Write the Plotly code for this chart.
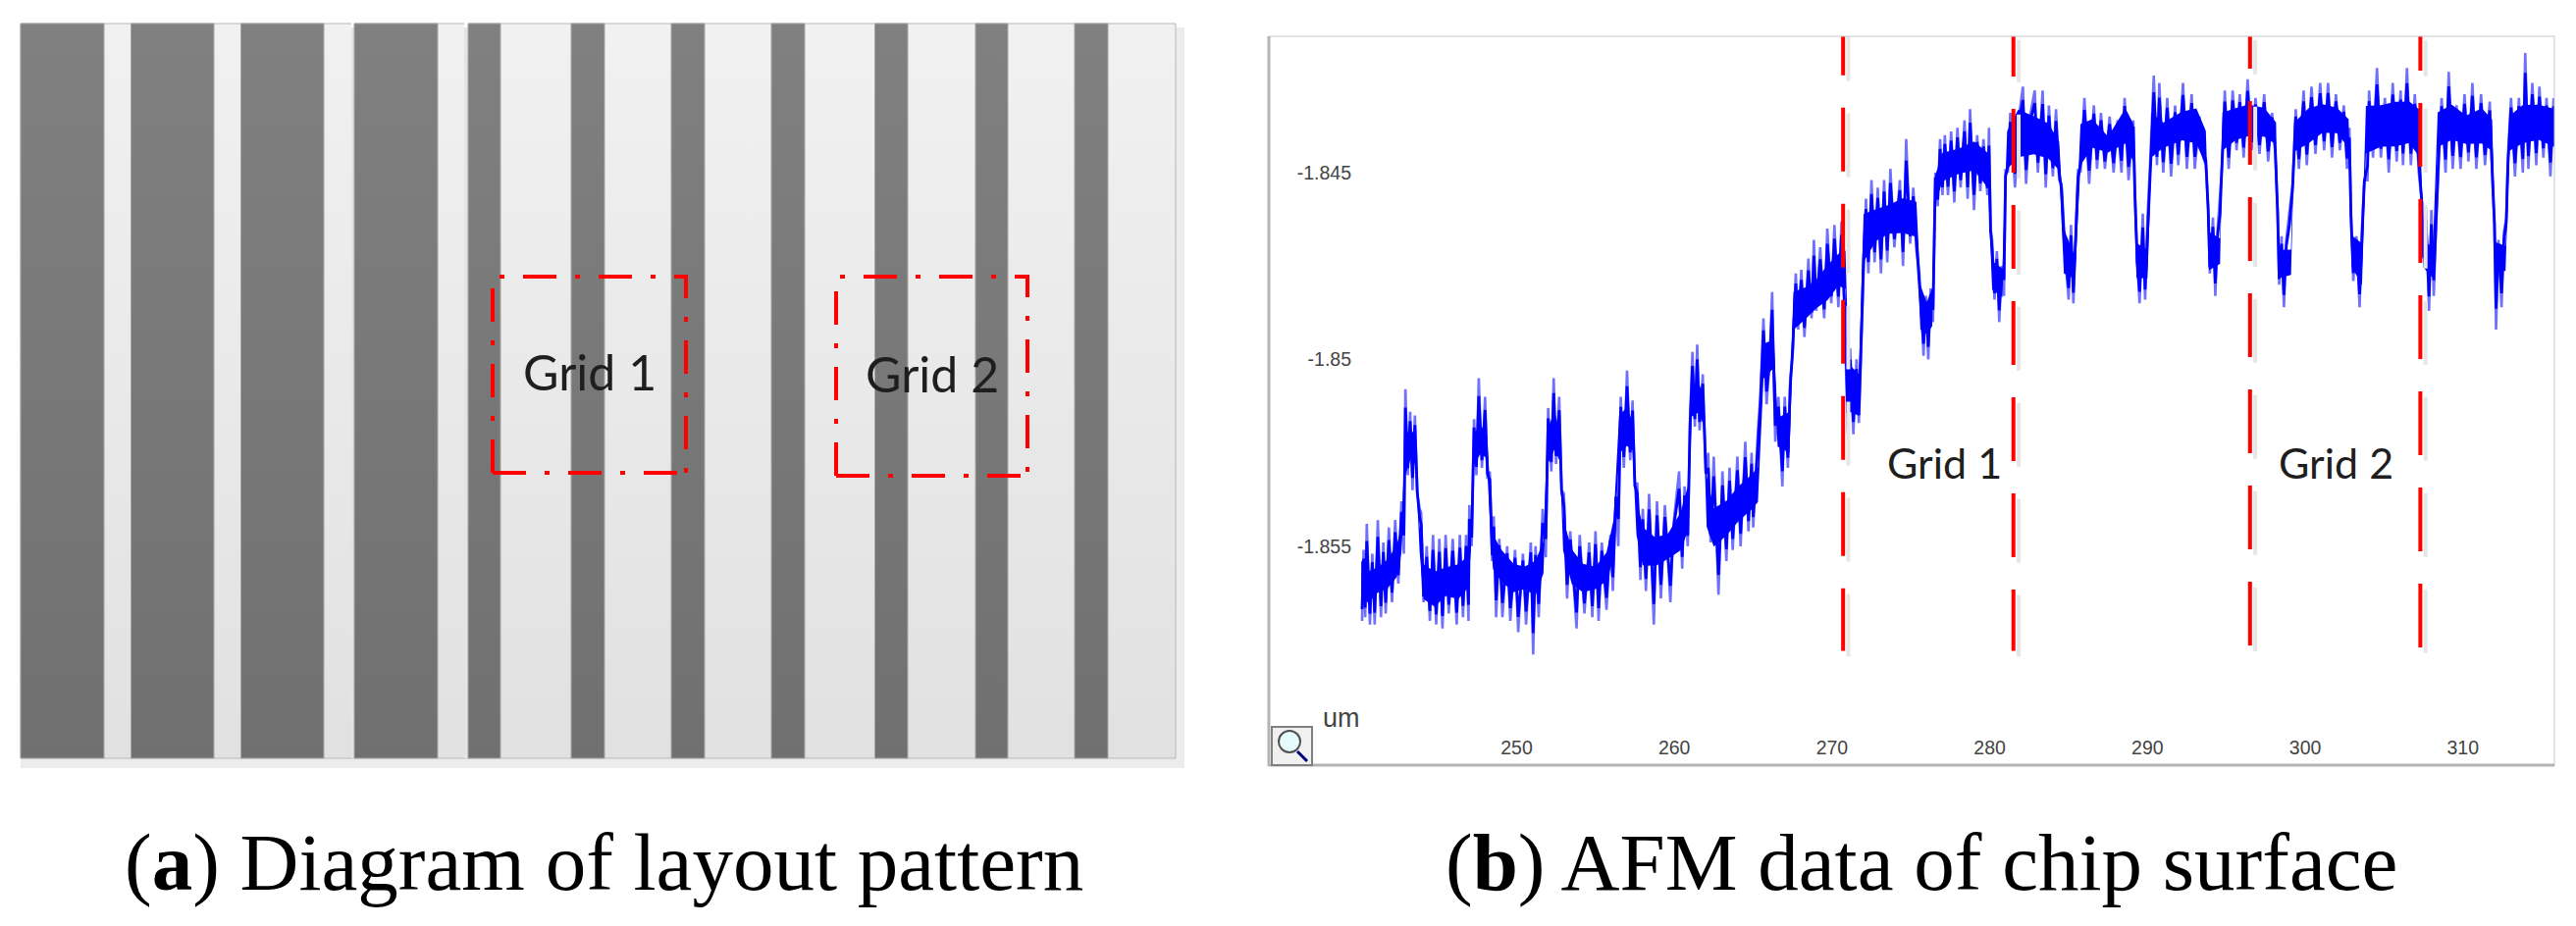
import numpy as np
import plotly.graph_objects as go

W, H = 2625, 944

# ---------- left diagram: stripe positions along the layout (schematic units) ----------
stripe_start = [21, 133.5, 245.5, 361, 477, 582, 684, 786, 891.5, 994, 1095]
stripe_end = [106, 218, 330, 446, 510, 616, 718, 820, 925, 1027, 1129]
seam_start = [358, 473]
seam_end = [361, 477]
grid_labels = ["Grid 1", "Grid 2"]
grid_left = [502, 852]
grid_right = [699, 1047]
grid_top = [282, 282]
grid_bottom = [482, 485]

# ---------- right chart: AFM profile, position in um, height in nm ----------
core_x = [240.15, 240.6, 241.2, 241.8, 242.4, 242.7, 242.95, 243.3, 243.6, 243.85, 244.1,
          244.8, 245.5, 246.3, 246.9, 247.1, 247.3, 247.7, 248.1, 248.35,
          248.5, 249.0, 249.8, 250.5, 251.2, 251.7, 251.95, 252.4, 252.75, 252.95,
          253.5, 254.2, 255.0, 255.7, 256.15, 256.5, 257.0, 257.35, 257.6,
          258.0, 258.8, 259.6, 260.4, 260.85, 261.1, 261.5, 261.85, 262.05,
          262.5, 263.3, 264.1, 264.9, 265.3, 265.65, 266.3, 266.55, 267.3,
          267.55, 268.3, 269.0, 269.7, 270.4, 270.85, 271.05, 271.7,
          272.0, 272.8, 273.6, 274.5, 275.35, 275.6, 276.0, 276.35,
          276.55, 277.0, 278.0, 279.0, 279.9, 280.15, 280.8,
          281.1, 281.8, 282.8, 283.7, 284.4, 284.7, 285.4,
          285.75, 286.5, 287.5, 288.6, 289.1, 289.3, 290.0,
          290.25, 291.0, 292.2, 293.1, 293.7, 293.9, 294.6,
          294.75, 295.6, 296.4, 297.4, 298.15, 298.3, 299.1,
          299.3, 300.2, 301.1, 302.0, 302.75, 302.95, 303.6,
          303.85, 304.8, 305.7, 306.6, 307.25, 307.5, 308.1,
          308.4, 309.3, 310.2, 311.2, 311.85, 312.05, 312.7,
          312.95, 313.8, 314.8, 315.8]
core_top = [-1855.3, -1855.6, -1855.5, -1855.3, -1854.9, -1854.4, -1851.9, -1851.8, -1852.0, -1854.4, -1855.4,
            -1855.6, -1855.5, -1855.4, -1855.2, -1854.3, -1851.9, -1851.7, -1851.9, -1853.5,
            -1854.6, -1855.0, -1855.4, -1855.5, -1855.3, -1854.8, -1851.8, -1851.3, -1851.9, -1854.2,
            -1855.0, -1855.4, -1855.5, -1855.1, -1854.2, -1851.4, -1851.2, -1851.6, -1853.6,
            -1854.4, -1854.7, -1854.6, -1854.0, -1853.3, -1850.7, -1850.5, -1850.9, -1853.0,
            -1853.9, -1853.7, -1853.3, -1853.0, -1852.8, -1849.5, -1849.4, -1851.5, -1851.3,
            -1848.1, -1848.0, -1847.8, -1847.4, -1847.1, -1847.0, -1850.0, -1850.3,
            -1846.0, -1845.9, -1845.8, -1845.6, -1845.7, -1847.9, -1848.4, -1848.0,
            -1845.0, -1844.4, -1844.3, -1844.1, -1844.4, -1847.3, -1847.5,
            -1843.8, -1843.2, -1843.4, -1843.6, -1844.1, -1846.4, -1847.2,
            -1843.6, -1843.5, -1844.0, -1843.2, -1843.6, -1846.8, -1847.0,
            -1843.3, -1843.6, -1843.3, -1843.2, -1843.8, -1846.5, -1846.7,
            -1843.3, -1843.2, -1843.1, -1843.2, -1843.6, -1847.0, -1847.0,
            -1843.6, -1843.2, -1843.1, -1843.2, -1843.5, -1846.6, -1846.8,
            -1843.1, -1843.1, -1843.0, -1843.0, -1843.2, -1846.8, -1846.9,
            -1843.3, -1843.1, -1843.4, -1843.2, -1843.5, -1846.8, -1846.9,
            -1843.4, -1843.1, -1843.1, -1843.2]
core_bottom = [-1856.4, -1856.6, -1856.3, -1856.2, -1855.9, -1855.2, -1853.2, -1852.7, -1852.9, -1855.2, -1856.5,
               -1856.7, -1856.4, -1856.5, -1856.2, -1855.2, -1852.9, -1852.6, -1852.7, -1854.8,
               -1855.7, -1856.0, -1856.3, -1856.2, -1856.4, -1855.8, -1852.9, -1852.5, -1852.8, -1855.2,
               -1856.1, -1856.3, -1856.2, -1856.0, -1855.4, -1852.6, -1852.4, -1852.5, -1854.8,
               -1855.6, -1855.6, -1855.4, -1855.2, -1854.7, -1851.6, -1851.5, -1851.8, -1854.6,
               -1855.1, -1854.8, -1854.4, -1854.1, -1853.9, -1850.6, -1850.3, -1852.4, -1852.6,
               -1849.3, -1849.0, -1848.7, -1848.5, -1848.1, -1848.2, -1851.5, -1851.6,
               -1847.5, -1846.9, -1846.7, -1846.7, -1846.8, -1849.3, -1849.4, -1849.2,
               -1845.9, -1845.3, -1845.1, -1845.0, -1845.5, -1848.2, -1848.4,
               -1845.0, -1844.7, -1844.6, -1844.7, -1845.0, -1847.8, -1847.9,
               -1844.9, -1844.4, -1844.5, -1844.3, -1844.8, -1847.9, -1847.9,
               -1844.7, -1844.4, -1844.2, -1844.3, -1844.9, -1847.7, -1847.5,
               -1844.5, -1844.2, -1844.1, -1844.1, -1844.3, -1847.9, -1847.8,
               -1844.5, -1844.3, -1844.0, -1844.0, -1844.4, -1847.6, -1848.1,
               -1844.6, -1844.4, -1844.4, -1844.3, -1844.7, -1847.6, -1847.9,
               -1844.4, -1844.2, -1844.3, -1844.3, -1844.5, -1847.6, -1847.7,
               -1844.5, -1844.3, -1844.2, -1844.4]

spike_x = [240.2, 240.3, 240.4, 240.5, 240.7, 240.85, 241.0, 241.2, 241.4, 241.55, 241.7, 241.9, 242.1, 242.3, 242.5, 242.7,
           242.85, 242.95, 243.1, 243.25, 243.4, 243.55, 243.7, 243.85,
           243.95, 244.1, 244.3, 244.5, 244.7, 244.9, 245.1, 245.3, 245.5, 245.7, 245.95, 246.2, 246.4, 246.6, 246.8, 246.95, 247.0,
           247.15, 247.3, 247.45, 247.6, 247.8, 248.0, 248.15,
           248.3, 248.45, 248.55, 248.7, 248.9, 249.1, 249.4, 249.6, 249.9, 250.1, 250.4, 250.6, 250.9, 251.05, 251.2, 251.4, 251.65,
           251.85, 252.0, 252.2, 252.35, 252.5, 252.7, 252.85,
           253.0, 253.2, 253.4, 253.8, 254.0, 254.3, 254.6, 254.8, 255.0, 255.2, 255.4, 255.7, 255.95, 256.1, 256.3,
           256.45, 256.6, 256.8, 257.0, 257.2, 257.35, 257.5,
           257.65, 257.85, 258.0, 258.2, 258.4, 258.7, 258.9, 259.15, 259.4, 259.75, 259.95, 260.3, 260.5, 260.65, 260.85,
           261.0, 261.15, 261.3, 261.45, 261.6, 261.8, 262.0,
           262.15, 262.3, 262.5, 262.8, 263.05, 263.3, 263.5, 263.7, 264.0, 264.2, 264.5, 264.7, 264.9, 265.0, 265.3,
           265.45, 265.65, 265.85, 266.05, 266.2, 266.4, 266.6, 266.85, 267.0, 267.2, 267.35,
           267.5, 267.7, 267.85, 268.05, 268.25, 268.5, 268.7, 268.85, 269.0, 269.25, 269.5, 269.7, 269.95, 270.15, 270.4, 270.6, 270.8,
           271.0, 271.15, 271.35, 271.55, 271.7,
           271.9, 272.0, 272.15, 272.3, 272.5, 272.7, 272.9, 273.1, 273.3, 273.5, 273.7, 273.95, 274.3, 274.5, 274.7, 274.95, 275.15, 275.35,
           275.5, 275.65, 275.8, 275.95, 276.1, 276.25, 276.4,
           276.55, 276.7, 276.85, 277.0, 277.15, 277.35, 277.55, 277.75, 277.95, 278.15, 278.4, 278.6, 278.75, 279.0, 279.2, 279.4, 279.6, 279.85, 279.95, 280.05,
           280.15, 280.3, 280.45, 280.6, 280.75, 280.9,
           281.0, 281.15, 281.3, 281.6, 281.85, 282.1, 282.3, 282.55, 282.85, 283.05, 283.35, 283.55, 283.75, 284.0, 284.2, 284.4,
           284.55, 284.7, 284.85, 285.0, 285.15, 285.3, 285.45, 285.6,
           285.75, 286.0, 286.3, 286.6, 286.8, 287.05, 287.3, 287.6, 287.85, 288.1, 288.35, 288.55, 288.8, 289.1, 289.2,
           289.35, 289.5, 289.7, 289.85, 290.0, 290.15,
           290.4, 290.6, 290.75, 291.0, 291.25, 291.5, 291.75, 291.95, 292.25, 292.5, 292.8, 293.0, 293.3, 293.55, 293.7,
           293.85, 293.95, 294.15, 294.3, 294.45, 294.6,
           294.75, 294.9, 295.15, 295.4, 295.65, 295.85, 296.1, 296.35, 296.6, 296.85, 297.1, 297.4, 297.65, 297.9, 298.1,
           298.25, 298.35, 298.5, 298.65, 298.8, 299.0, 299.2,
           299.4, 299.6, 299.9, 300.1, 300.4, 300.65, 300.95, 301.2, 301.45, 301.7, 301.95, 302.2, 302.45, 302.65, 302.8,
           302.9, 303.05, 303.25, 303.45, 303.6, 303.75,
           303.95, 304.05, 304.3, 304.55, 304.8, 305.05, 305.3, 305.55, 305.8, 306.05, 306.2, 306.45, 306.7, 306.95, 307.2,
           307.4, 307.5, 307.65, 307.85, 308.0, 308.15, 308.3, 308.45,
           308.65, 308.9, 309.1, 309.35, 309.6, 309.85, 310.1, 310.35, 310.6, 310.85, 311.15, 311.4, 311.7, 311.85,
           312.0, 312.1, 312.25, 312.45, 312.6, 312.75, 312.85,
           313.05, 313.3, 313.55, 313.8, 313.95, 314.15, 314.4, 314.65, 314.85, 315.1, 315.3, 315.55, 315.75]
spike_y = [-1857.0, -1855.1, -1856.9, -1854.4, -1857.1, -1855.2, -1857.1, -1854.3, -1856.9, -1854.9, -1856.8, -1854.5, -1856.5, -1854.3, -1856.0, -1853.8,
           -1855.2, -1850.8, -1853.1, -1851.4, -1853.5, -1851.5, -1853.6, -1854.0,
           -1854.1, -1856.5, -1855.0, -1857.0, -1854.7, -1857.1, -1854.8, -1857.2, -1854.7, -1856.8, -1854.8, -1857.1, -1854.7, -1856.9, -1854.7, -1857.0, -1853.9,
           -1855.0, -1851.6, -1853.1, -1850.5, -1852.9, -1851.0, -1853.2,
           -1853.0, -1855.4, -1854.2, -1856.9, -1854.8, -1856.9, -1855.0, -1857.0, -1855.1, -1857.3, -1855.2, -1857.1, -1854.9, -1857.9, -1855.0, -1856.9, -1854.0,
           -1855.3, -1851.3, -1853.0, -1850.5, -1852.8, -1851.0, -1853.5,
           -1853.6, -1856.4, -1854.6, -1857.2, -1854.7, -1856.8, -1854.9, -1856.9, -1854.6, -1857.0, -1854.9, -1856.7, -1854.7, -1856.2, -1853.7,
           -1855.0, -1851.0, -1852.9, -1850.3, -1852.7, -1851.1, -1853.4,
           -1853.3, -1855.9, -1854.0, -1856.2, -1853.6, -1857.1, -1853.8, -1856.4, -1853.9, -1856.5, -1854.4, -1853.0, -1855.6, -1853.4, -1855.0,
           -1851.5, -1849.8, -1851.8, -1849.6, -1851.9, -1850.4, -1853.0,
           -1852.5, -1854.9, -1852.6, -1856.3, -1853.0, -1855.4, -1852.9, -1855.1, -1852.6, -1855.0, -1852.2, -1854.6, -1852.5, -1854.5, -1851.9,
           -1851.0, -1848.9, -1851.2, -1850.0, -1848.2, -1852.2, -1851.0, -1853.4, -1851.0, -1852.9, -1850.5,
           -1849.9, -1847.7, -1849.2, -1847.6, -1849.4, -1847.3, -1848.9, -1846.8, -1848.7, -1847.0, -1848.9, -1846.5, -1848.5, -1846.4, -1848.6, -1846.3, -1849.0,
           -1852.0, -1849.7, -1852.0, -1850.0, -1851.7,
           -1849.0, -1847.5, -1845.7, -1847.7, -1845.2, -1847.4, -1845.4, -1847.7, -1845.2, -1847.4, -1844.9, -1847.0, -1845.2, -1847.5, -1844.1, -1846.9, -1845.4, -1847.1,
           -1847.5, -1848.5, -1849.9, -1848.3, -1850.0, -1848.1, -1849.0,
           -1845.0, -1845.9, -1844.1, -1845.6, -1844.0, -1845.6, -1843.9, -1845.8, -1843.8, -1845.4, -1843.6, -1845.7, -1843.3, -1846.0, -1844.0, -1845.5, -1844.1, -1845.6, -1843.8, -1846.5,
           -1846.8, -1848.4, -1847.1, -1849.0, -1847.5, -1848.3,
           -1844.9, -1845.0, -1843.4, -1845.4, -1843.5, -1842.7, -1845.3, -1843.5, -1842.8, -1845.0, -1842.8, -1845.4, -1843.2, -1845.1, -1843.3, -1845.2,
           -1845.3, -1846.5, -1847.6, -1848.4, -1846.4, -1848.5, -1846.5, -1844.9,
           -1845.0, -1843.0, -1845.3, -1843.2, -1844.9, -1843.4, -1844.9, -1843.5, -1845.0, -1843.6, -1845.0, -1843.0, -1845.2, -1843.6, -1845.5,
           -1847.4, -1848.5, -1846.1, -1848.4, -1846.2, -1844.9,
           -1842.4, -1844.8, -1842.6, -1845.0, -1843.0, -1845.1, -1843.2, -1844.8, -1842.6, -1844.9, -1842.9, -1844.9, -1843.5, -1844.6, -1844.8,
           -1845.9, -1847.7, -1846.2, -1848.3, -1846.5, -1845.7,
           -1844.7, -1842.8, -1844.9, -1842.8, -1844.4, -1842.9, -1844.6, -1842.5, -1844.4, -1843.0, -1844.5, -1842.9, -1844.7, -1843.4, -1844.5,
           -1846.0, -1848.0, -1846.7, -1848.6, -1846.8, -1846.0, -1845.3,
           -1843.3, -1844.9, -1842.8, -1844.8, -1842.7, -1844.5, -1842.6, -1844.4, -1842.6, -1844.6, -1842.9, -1844.4, -1843.2, -1844.9, -1843.8,
           -1846.1, -1847.9, -1846.7, -1848.6, -1846.5, -1845.2,
           -1845.2, -1842.8, -1844.6, -1842.2, -1844.6, -1843.0, -1845.0, -1842.6, -1844.7, -1842.8, -1844.8, -1842.2, -1844.8, -1842.9, -1845.0,
           -1845.8, -1847.3, -1845.9, -1848.7, -1846.0, -1848.3, -1846.4, -1844.9,
           -1843.0, -1845.0, -1842.3, -1844.9, -1843.2, -1844.9, -1842.9, -1844.7, -1842.6, -1844.9, -1842.9, -1844.8, -1843.1, -1845.0,
           -1846.4, -1849.2, -1846.8, -1848.6, -1846.6, -1846.2, -1844.6,
           -1843.0, -1845.1, -1843.0, -1845.0, -1841.8, -1844.9, -1842.6, -1844.8, -1842.7, -1844.6, -1843.0, -1845.1, -1843.0]

x_ticks = [250, 260, 270, 280, 290, 300, 310]
y_ticks = [-1.845, -1.85, -1.855]
y_tick_labels = ["-1.845", "-1.85", "-1.855"]
boundary_um = [270.7, 281.5, 296.5, 307.3]
boundary_first_dash = [57, 43, 35, 37]
boundary_top_um = [-1.8409, -1.8413, -1.8413, -1.8413]
boundary_bottom_um = -1.8578
afm_labels = ["Grid 1", "Grid 2"]
afm_label_x = [277.16, 301.93]
afm_label_y = [-1.85277, -1.85277]

if len(spike_x) != len(spike_y) or not (len(core_x) == len(core_top) == len(core_bottom)):
    raise ValueError(f"{len(spike_x)} {len(spike_y)} {len(core_x)} {len(core_top)} {len(core_bottom)}")


def px(x):
    return x / W


def py(y):
    return 1 - y / H


fig = go.Figure()

# left diagram ---------------------------------------------------------------
AX1 = dict(xaxis="x", yaxis="y", hoverinfo="skip", showlegend=False)
fig.add_trace(go.Scatter(x=[21, 1207, 1207, 21, 21], y=[28, 28, 783, 783, 28], mode="none", fill="toself",
                         fillcolor="#ececec", **AX1))
fig.add_trace(go.Scatter(x=[21, 1198, 1198, 21, 21], y=[24, 24, 773, 773, 24], mode="lines", fill="toself",
                         line=dict(color="#b8b8b8", width=1),
                         fillgradient=dict(type="vertical", colorscale=[[0, "#e1e1e1"], [1, "#f1f1f1"]]), **AX1))
for a, b in zip(seam_start, seam_end):
    fig.add_trace(go.Scatter(x=[a, b, b, a, a], y=[28, 28, 773, 773, 28], mode="none", fill="toself",
                             fillcolor="#e4e4e4", **AX1))
    fig.add_trace(go.Scatter(x=[a, b, b, a, a], y=[23, 23, 28, 28, 23], mode="none", fill="toself",
                             fillcolor="#ffffff", **AX1))
for a, b in zip(stripe_start, stripe_end):
    fig.add_trace(go.Scatter(x=[a, b, b, a, a], y=[24, 24, 773, 773, 24], mode="lines", fill="toself",
                             line=dict(color="#a6a6a6", width=1),
                             fillgradient=dict(type="vertical", colorscale=[[0, "#707070"], [1, "#808080"]]), **AX1))
DASH = "34px,19px,5px,19px"
for l, r, t, b in zip(grid_left, grid_right, grid_top, grid_bottom):
    fig.add_trace(go.Scatter(x=[l, l, r, r], y=[b, t, t, b], mode="lines",
                             line=dict(color="#ff0000", width=4, dash=DASH), **AX1))
    fig.add_trace(go.Scatter(x=[l, r], y=[b, b], mode="lines",
                             line=dict(color="#ff0000", width=4, dash=DASH), **AX1))

# right chart ----------------------------------------------------------------
AX2 = dict(xaxis="x2", yaxis="y2", hoverinfo="skip", showlegend=False)
top = np.array(core_top)
bottom = np.array(core_bottom)
mid = (top + bottom) / 2
half = (top - bottom) / 2
# the dark band of the trace is the same spiky signal, pulled toward the band's centre line
centre_at_spike = np.interp(spike_x, core_x, mid)
dark_y = centre_at_spike + (np.array(spike_y) - centre_at_spike) * 0.72

fig.add_trace(go.Scatter(x=spike_x, y=[v / 1000 for v in spike_y], mode="lines",
                         line=dict(color="#7070ff", width=2.6), **AX2))
fig.add_trace(go.Scatter(x=core_x + core_x[::-1],
                         y=list((mid + half * 0.85) / 1000) + list((mid - half * 0.85) / 1000)[::-1],
                         mode="none", fill="toself", fillcolor="#0000ff", **AX2))
fig.add_trace(go.Scatter(x=spike_x, y=list(dark_y / 1000), mode="lines",
                         line=dict(color="#0000ff", width=2.8), **AX2))
for xv, t0, first in zip(boundary_um, boundary_top_um, boundary_first_dash):
    pattern = f"{first}px,33px" + ",65px,33px" * 8
    fig.add_trace(go.Scatter(x=[xv + 0.33, xv + 0.33], y=[t0 - 0.00015, boundary_bottom_um - 0.00015], mode="lines",
                             line=dict(color="#e6e6e6", width=4, dash=pattern), cliponaxis=False, **AX2))
    fig.add_trace(go.Scatter(x=[xv, xv], y=[t0, boundary_bottom_um], mode="lines",
                             line=dict(color="#ff0000", width=4, dash=pattern), cliponaxis=False, **AX2))

# frame and magnifier drawn in page coordinates
shapes = [
    dict(type="line", xref="paper", yref="paper", x0=px(1293), x1=px(2603), y0=py(37), y1=py(37),
         line=dict(color="#c8c8c8", width=1)),
    dict(type="line", xref="paper", yref="paper", x0=px(2603), x1=px(2603), y0=py(37), y1=py(781),
         line=dict(color="#c8c8c8", width=1)),
    dict(type="line", xref="paper", yref="paper", x0=px(1293), x1=px(1293), y0=py(37), y1=py(781),
         line=dict(color="#b4b4b4", width=3)),
    dict(type="line", xref="paper", yref="paper", x0=px(1293), x1=px(2603), y0=py(780), y1=py(780),
         line=dict(color="#b4b4b4", width=3)),
    dict(type="rect", xref="paper", yref="paper", x0=px(1296), x1=px(1337), y0=py(741), y1=py(780),
         line=dict(color="#808080", width=2), fillcolor="#f0f0f0"),
    dict(type="circle", xref="paper", yref="paper", x0=px(1303), x1=px(1325), y0=py(745), y1=py(767),
         line=dict(color="#505050", width=2), fillcolor="#e6fbfb"),
    dict(type="line", xref="paper", yref="paper", x0=px(1322), x1=px(1332), y0=py(766), y1=py(776),
         line=dict(color="#000080", width=3)),
]

annotations = []
for label, l, r, t, b in zip(grid_labels, grid_left, grid_right, grid_top, grid_bottom):
    annotations.append(dict(xref="x", yref="y", x=(l + r) / 2, y=(t + b) / 2 - 3, text=label, showarrow=False,
                            xanchor="center", yanchor="middle",
                            font=dict(family="Lato", size=50, color="#1e1e1e")))
for label, xv, yv in zip(afm_labels, afm_label_x, afm_label_y):
    annotations.append(dict(xref="x2", yref="y2", x=xv, y=yv, text=label, showarrow=False,
                            xanchor="center", yanchor="middle",
                            font=dict(family="Lato", size=43, color="#1e1e1e")))
annotations.append(dict(xref="paper", yref="paper", x=px(1367), y=py(732), text="um", showarrow=False,
                        xanchor="center", yanchor="middle",
                        font=dict(family="Liberation Sans", size=27, color="#444444")))
annotations.append(dict(xref="paper", yref="paper", x=px(615), y=py(879), showarrow=False,
                        xanchor="center", yanchor="middle",
                        text="(<b>a</b>) Diagram of layout pattern",
                        font=dict(family="Liberation Serif", size=83, color="#000000")))
annotations.append(dict(xref="paper", yref="paper", x=px(1958), y=py(879), showarrow=False,
                        xanchor="center", yanchor="middle",
                        text="(<b>b</b>) AFM data of chip surface",
                        font=dict(family="Liberation Serif", size=83, color="#000000")))

fig.update_layout(
    width=W, height=H, autosize=False, margin=dict(l=0, r=0, t=0, b=0),
    paper_bgcolor="white", plot_bgcolor="rgba(0,0,0,0)", shapes=shapes, annotations=annotations,
    xaxis=dict(domain=[0, px(1250)], range=[0, 1250], visible=False, fixedrange=True),
    yaxis=dict(domain=[py(800), 1], range=[800, 0], visible=False, fixedrange=True),
    xaxis2=dict(domain=[px(1378), px(2603)], range=[239.58, 315.80], tickvals=x_ticks, showgrid=False,
                showline=False, zeroline=False, ticks="", anchor="y2",
                tickfont=dict(family="Liberation Sans", size=19.5, color="#444444")),
    yaxis2=dict(domain=[py(748), py(37)], range=[-1.86002, -1.84135], tickvals=y_ticks, ticktext=y_tick_labels,
                showgrid=False, showline=False, zeroline=False, ticks="", anchor="x2",
                tickfont=dict(family="Liberation Sans", size=19.5, color="#444444")),
)

fig.write_html("out.html", config=dict(displayModeBar=False),
               post_script="document.body.style.margin='0';document.documentElement.style.overflow='hidden';")
